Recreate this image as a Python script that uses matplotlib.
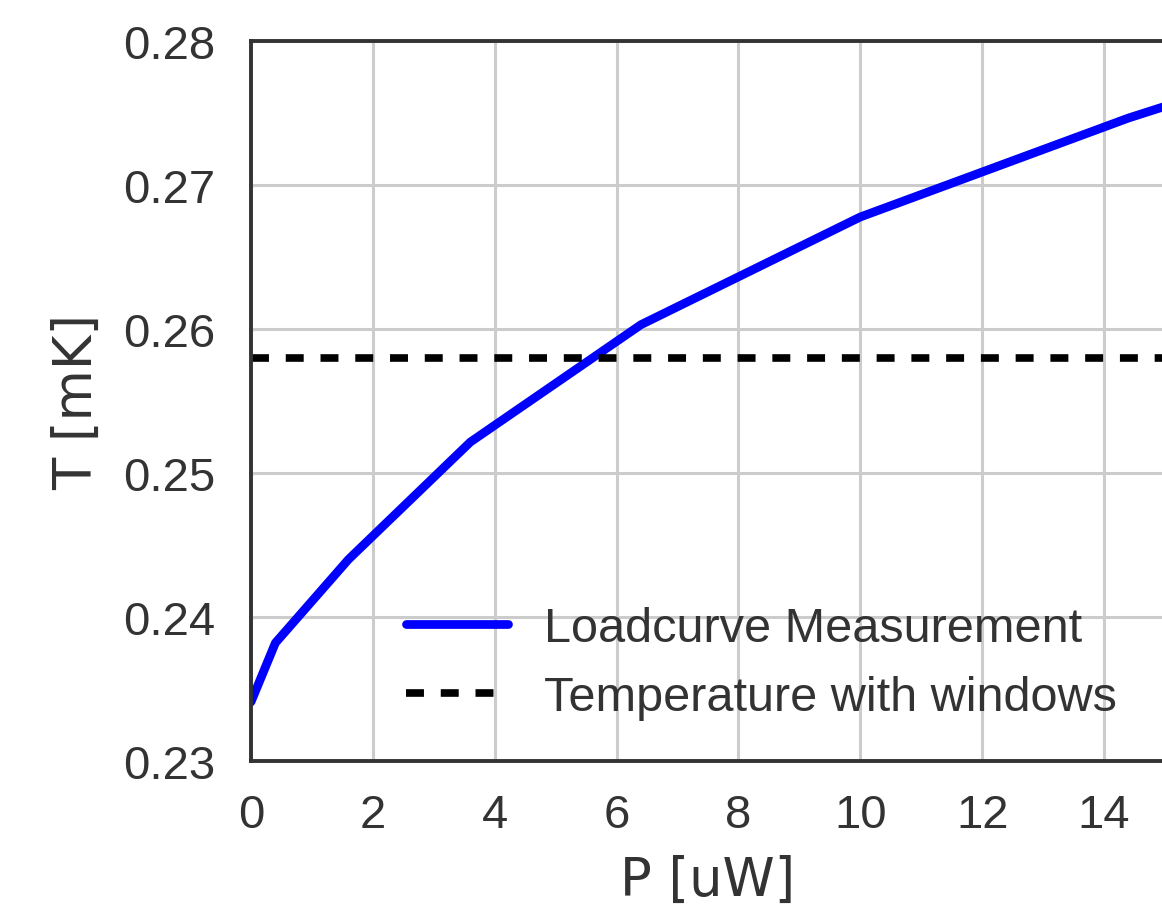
import matplotlib
matplotlib.use('Agg')
import matplotlib.pyplot as plt

# load curve readings
power = [0.0, 0.4, 1.6, 3.6, 6.4, 10.0, 14.4, 19.6]
temp = [0.2341, 0.2382, 0.2440, 0.25215, 0.2603, 0.26778, 0.27465, 0.2817]
t_windows = 0.258

xticks = [0, 2, 4, 6, 8, 10, 12, 14]
yticks = [0.23, 0.24, 0.25, 0.26, 0.27, 0.28]

plt.rcParams['font.family'] = ['Liberation Sans', 'DejaVu Sans']
dark = '#333333'

fig = plt.figure(figsize=(11.62, 9.2), dpi=100)
W, H = 1162.0, 920.0
ax = fig.add_axes([251 / W, 158 / H, 914 / W, 720 / H])

ax.plot(power, temp, color='blue', lw=6.3, solid_capstyle='round',
        label='Loadcurve Measurement')
ax.axhline(t_windows, color='black', lw=5.5, dashes=(2.35, 2.2),
           label='Temperature with windows')

ax.set_xlim(0, 15)
ax.set_ylim(0.23, 0.28)
ax.set_xticks(xticks)
ax.set_yticks(yticks)
ax.set_yticklabels(['%.2f' % v for v in yticks])

ax.grid(True, color='#cccccc', lw=2.2)
ax.set_axisbelow(True)
for s in ax.spines.values():
    s.set_color(dark)
    s.set_linewidth(2.8)

ax.tick_params(axis='both', length=0, labelsize=34, labelcolor=dark)
ax.tick_params(axis='x', pad=23)
ax.tick_params(axis='y', pad=26)

ax.set_xlabel('P [uW]', fontsize=38, color=dark, labelpad=12,
              family='DejaVu Sans')
ax.set_ylabel('T [mK]', fontsize=38, color=dark, labelpad=14,
              family='DejaVu Sans')

leg = ax.legend(loc='lower left', bbox_to_anchor=(362 / W, 155 / H),
                bbox_transform=fig.transFigure, frameon=False, fontsize=35,
                handlelength=2.1, handletextpad=0.75, labelspacing=0.5)
for t in leg.get_texts():
    t.set_color(dark)

fig.savefig('out.png', dpi=100)
